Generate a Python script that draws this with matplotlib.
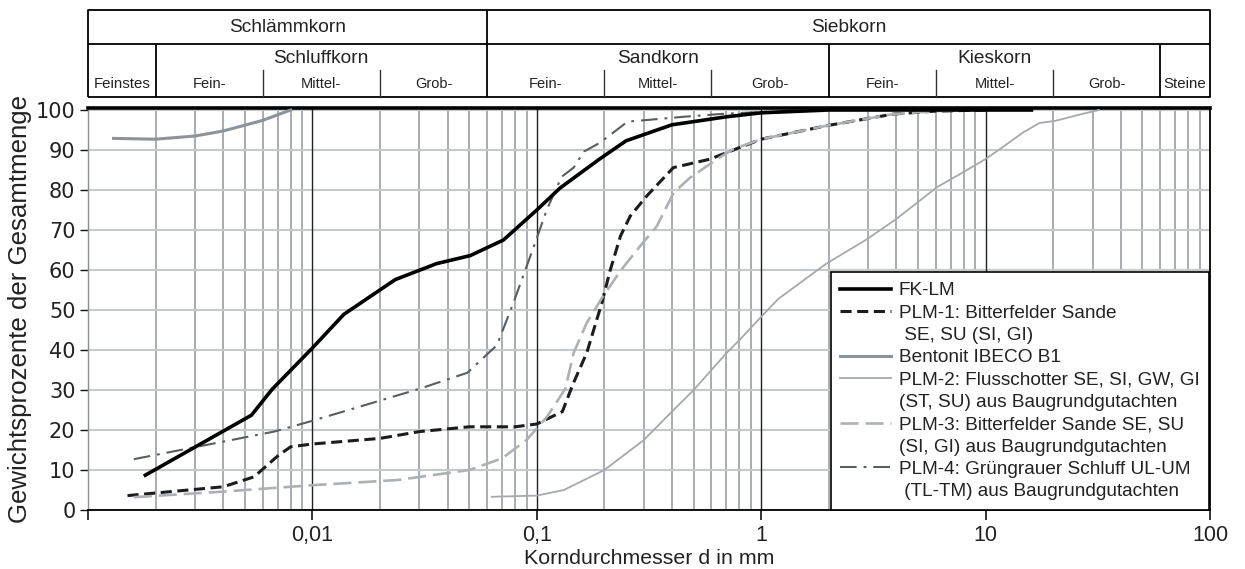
import numpy as np
import matplotlib
matplotlib.use("Agg")
import matplotlib.pyplot as plt
from matplotlib.lines import Line2D

# ---------------- data ----------------
fk_lm_d = [0.0018, 0.00535, 0.00662, 0.01, 0.0138, 0.0234, 0.0358, 0.0505, 0.071, 0.1, 0.127, 0.19, 0.25, 0.4, 0.7, 1.0, 2.0, 16.0]
fk_lm_p = [8.7, 23.7, 30.2, 40.5, 48.9, 57.6, 61.6, 63.6, 67.5, 75.0, 80.5, 87.7, 92.3, 96.3, 98.3, 99.3, 100, 100]

plm1_d = [0.0015, 0.004, 0.0055, 0.007, 0.008, 0.01, 0.02, 0.03, 0.05, 0.08, 0.1, 0.13, 0.145, 0.167, 0.195, 0.212, 0.236, 0.261, 0.309, 0.406, 0.59, 1.0, 1.97, 3.9, 5.9, 10.0]
plm1_p = [3.6, 5.8, 8.3, 13.5, 15.8, 16.5, 17.9, 19.6, 20.8, 20.8, 21.5, 24.6, 31.5, 39.3, 51.8, 59.8, 68.5, 73.5, 78.5, 85.6, 87.7, 92.7, 96.1, 99.0, 99.7, 100]

bentonit_d = [0.0013, 0.002, 0.003, 0.004, 0.005, 0.006, 0.008]
bentonit_p = [92.9, 92.7, 93.5, 94.75, 96.2, 97.4, 100]

plm2_d = [0.063, 0.1, 0.132, 0.2, 0.3, 0.4, 0.5, 0.6, 0.7, 0.8, 1.0, 1.19, 1.35, 1.94, 2.97, 4.0, 6.07, 7.7, 10.0, 11.6, 14.7, 17.4, 20.5, 26.9, 32.0]
plm2_p = [3.3, 3.6, 5.0, 10.0, 17.5, 24.6, 30.0, 35.0, 39.2, 42.5, 48.3, 52.75, 55.0, 61.5, 67.75, 72.75, 80.7, 84.0, 87.75, 90.25, 94.4, 96.75, 97.3, 99.0, 100]

plm3_d = [0.0016, 0.004, 0.01, 0.024, 0.05, 0.07, 0.09, 0.111, 0.134, 0.146, 0.167, 0.195, 0.236, 0.289, 0.343, 0.407, 0.48, 0.635, 0.75, 1.0, 1.97, 3.9, 5.9, 8.0]
plm3_p = [3.2, 4.6, 6.2, 7.5, 10.0, 12.9, 17.5, 23.3, 30.3, 39.3, 46.8, 53.0, 59.8, 66.0, 71.0, 79.3, 83.0, 87.7, 90.2, 92.7, 96.1, 99.0, 99.7, 100]

plm4_d = [0.0016, 0.00675, 0.01, 0.03, 0.049, 0.0664, 0.0787, 0.0966, 0.111, 0.129, 0.146, 0.162, 0.191, 0.254, 0.31, 0.45, 0.66, 1.0, 2.0]
plm4_p = [12.7, 19.6, 22.3, 30.3, 34.3, 41.2, 51.8, 65.6, 75.2, 83.3, 85.6, 89.6, 91.8, 97.1, 97.5, 98.3, 99.0, 99.5, 100]

series_labels = [
    ["FK-LM"],
    ["PLM-1: Bitterfelder Sande", " SE, SU (SI, GI)"],
    ["Bentonit IBECO B1"],
    ["PLM-2: Flusschotter SE, SI, GW, GI", "(ST, SU) aus Baugrundgutachten"],
    ["PLM-3: Bitterfelder Sande SE, SU", "(SI, GI) aus Baugrundgutachten"],
    ["PLM-4: Grüngrauer Schluff UL-UM", " (TL-TM) aus Baugrundgutachten"],
]

x_ticks = [0.001, 0.01, 0.1, 1, 10, 100]
x_ticklabels = ["", "0,01", "0,1", "1", "10", "100"]
y_ticks = [0, 10, 20, 30, 40, 50, 60, 70, 80, 90, 100]

# grain-size classification header
row1_groups = [("Schlämmkorn", 0.001, 0.06), ("Siebkorn", 0.06, 100)]
row2_cells = [("Feinstes", 0.001, 0.002), ("Steine", 60, 100)]
row2_groups = [("Schluffkorn", 0.002, 0.06), ("Sandkorn", 0.06, 2), ("Kieskorn", 2, 60)]
sub_names = ["Fein-", "Mittel-", "Grob-"]
sub_bounds = {"Schluffkorn": [0.002, 0.006, 0.02, 0.06],
              "Sandkorn": [0.06, 0.2, 0.6, 2],
              "Kieskorn": [2, 6, 20, 60]}

# ---------------- styling ----------------
plt.rcParams["lines.scale_dashes"] = False
SANS = ["Liberation Sans", "DejaVu Sans"]
plt.rcParams["font.family"] = SANS

W, H = 1245, 569
fig = plt.figure(figsize=(W / 100, H / 100), dpi=100)

x0, x1 = 88, 1210
ybot, ytop = 510, 108
ax = fig.add_axes([x0 / W, (H - ybot) / H, (x1 - x0) / W, (ybot - ytop) / H])
ax.set_xscale("log")
ax.set_xlim(0.001, 100)
ax.set_ylim(0, 100.5)

ax.set_xticks(x_ticks)
ax.set_xticklabels(x_ticklabels, fontsize=15.5)
ax.set_yticks(y_ticks)
ax.set_yticklabels([str(v) for v in y_ticks], fontsize=15, family=["DejaVu Sans"])
ax.xaxis.set_minor_locator(matplotlib.ticker.LogLocator(base=10, subs=np.arange(2, 10)))
ax.xaxis.set_minor_formatter(matplotlib.ticker.NullFormatter())
ax.tick_params(axis="x", which="major", direction="out", length=7, width=1.2, colors="#111111", pad=4)
ax.tick_params(axis="x", which="minor", length=0)
ax.tick_params(axis="y", which="major", direction="out", length=6, width=1.0, colors="#111111", pad=3)
ax.tick_params(labelcolor="#222222")
ax.grid(True, axis="x", which="minor", color="#a2a7ac", lw=1.3, zorder=0)
ax.grid(True, axis="y", which="major", color="#c6c9cc", lw=1.5, zorder=0)
for xv in x_ticks[1:-1]:
    ax.axvline(xv, color="#222222", lw=1.0, zorder=1)
ax.set_axisbelow(True)

ax.spines["top"].set_linewidth(2.6)
ax.spines["top"].set_color("black")
ax.spines["right"].set_linewidth(1.3)
ax.spines["bottom"].set_linewidth(1.3)
ax.spines["left"].set_linewidth(1.0)
ax.spines["left"].set_color("#8a8f94")

# curves
l_fk, = ax.plot(fk_lm_d, fk_lm_p, color="black", lw=2.6, zorder=6)
l_p1, = ax.plot(plm1_d, plm1_p, color="#1c1c1c", lw=2.2, dashes=(8, 4), zorder=5)
l_be, = ax.plot(bentonit_d, bentonit_p, color="#8c9399", lw=2.2, zorder=4)
l_p2, = ax.plot(plm2_d, plm2_p, color="#a5a9ad", lw=1.3, zorder=4)
l_p3, = ax.plot(plm3_d, plm3_p, color="#adb1b5", lw=1.9, dashes=(13, 5), zorder=5)
l_p4, = ax.plot(plm4_d, plm4_p, color="#585d61", lw=1.5, dashes=(12, 5, 2, 5), zorder=5)

ax.set_xlabel("Korndurchmesser d in mm", fontsize=15.4, labelpad=2, color="#222222")
ax.set_ylabel("Gewichtsprozente der Gesamtmenge", fontsize=18.6, labelpad=3, color="#222222")

# legend with continuation lines
blank = Line2D([], [], color="none")
handles, labels = [], []
for line, labs in zip([l_fk, l_p1, l_be, l_p2, l_p3, l_p4], series_labels):
    handles.append(line)
    labels.append(labs[0])
    for extra in labs[1:]:
        handles.append(blank)
        labels.append(extra)
leg = ax.legend(handles, labels, loc="lower right", bbox_to_anchor=(0.999, 0.0),
                borderaxespad=0, frameon=True, fancybox=False, framealpha=1,
                edgecolor="black", prop={"family": SANS, "size": 13.7},
                handlelength=2.65, handletextpad=0.42, labelspacing=0.265,
                borderpad=0.5)
leg.get_frame().set_linewidth(1.2)
for t in leg.get_texts():
    t.set_color("#222222")

# ---------------- header table ----------------
tt, tb = 10, 97
tax = fig.add_axes([x0 / W, (H - tb) / H, (x1 - x0) / W, (tb - tt) / H])
tax.set_xscale("log")
tax.set_xlim(0.001, 100)
tax.set_ylim(0, 1)
tax.axis("off")
ysep = (tb - 44) / (tb - tt)
ysub = (tb - 70) / (tb - tt)
lk = dict(color="black", lw=1.3, solid_capstyle="butt", clip_on=False)
tax.plot([0.001, 100, 100, 0.001, 0.001], [0, 0, 1, 1, 0], **lk)
tax.plot([0.001, 100], [ysep, ysep], **lk)
tax.plot([0.06, 0.06], [0, 1], **lk)
for xb in [0.002, 2, 60]:
    tax.plot([xb, xb], [0, ysep], **lk)
for g in sub_bounds.values():
    for xb in g[1:-1]:
        tax.plot([xb, xb], [0, ysub], color="#333333", lw=1.0, clip_on=False)

def lc(a, b):
    return np.sqrt(a * b)

for name, a, b in row1_groups:
    tax.text(lc(a, b), 0.80, name, ha="center", va="center", fontsize=13.8, color="#222222")
for name, a, b in row2_groups:
    tax.text(lc(a, b), 0.44, name, ha="center", va="center", fontsize=13.8, color="#222222")
    bs = sub_bounds[name]
    for i, sn in enumerate(sub_names):
        tax.text(lc(bs[i], bs[i + 1]), 0.15, sn, ha="center", va="center", fontsize=10.5,
                 color="#222222")
for name, a, b in row2_cells:
    tax.text(lc(a, b), 0.15, name, ha="center", va="center", fontsize=10.8,
             color="#222222")

fig.savefig("out.png", dpi=100)
